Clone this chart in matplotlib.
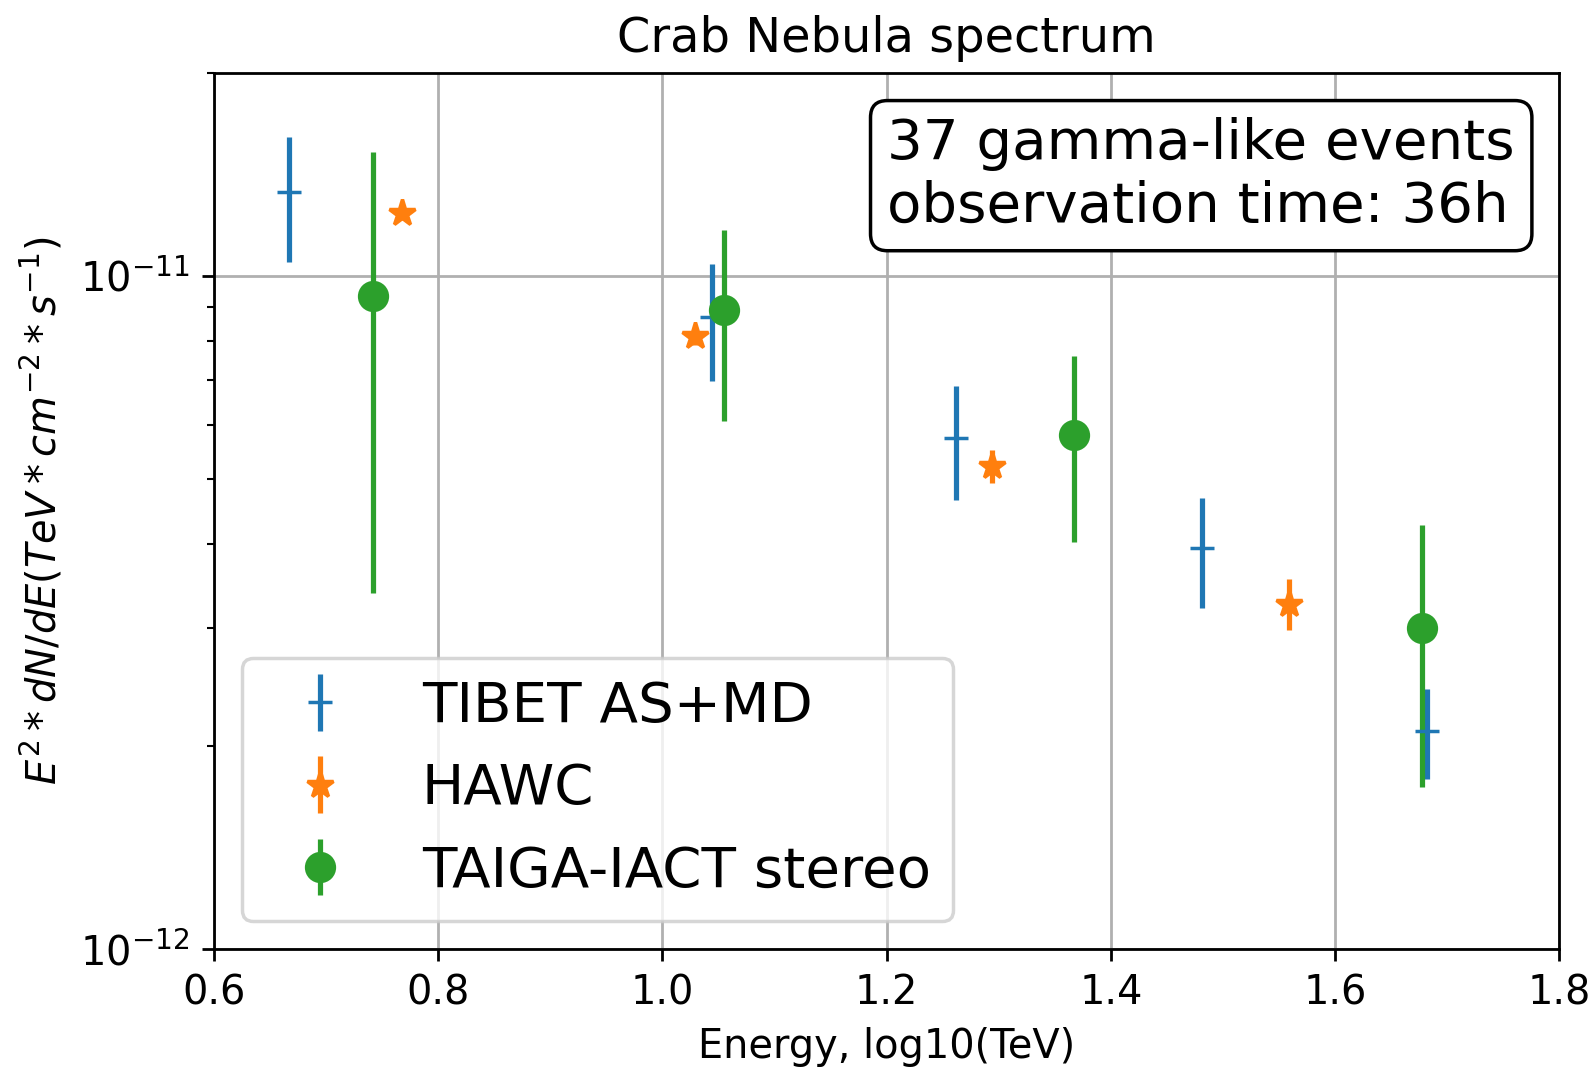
import numpy as np
import matplotlib
matplotlib.use("Agg")
import matplotlib.pyplot as plt

# values (flux in units of 1e-11)
tibet_x = [0.667, 1.044, 1.262, 1.481, 1.682]
tibet_y = [1.33, 0.87, 0.575, 0.394, 0.211]
tibet_err = [0.28, 0.172, 0.11, 0.073, 0.032]

hawc_x = [0.768, 1.029, 1.294, 1.559]
hawc_y = [1.24, 0.815, 0.522, 0.326]
hawc_err = [0.03, 0.025, 0.029, 0.028]

taiga_x = [0.742, 1.055, 1.367, 1.6775]
taiga_y = [0.933, 0.889, 0.581, 0.300]
taiga_err = [0.595, 0.28, 0.178, 0.126]

scale = 1e-11

plt.rcParams["font.size"] = 11.5


def scaled(vals):
    return np.asarray(vals, dtype=float) * scale


fig = plt.figure(figsize=(6.38, 4.288), dpi=250)
ax = fig.add_axes([0.1339, 0.1147, 0.9777 - 0.1339, 0.9317 - 0.1147])

ax.errorbar(tibet_x, scaled(tibet_y), yerr=scaled(tibet_err), fmt="+",
            markersize=7, color="C0", label="TIBET AS+MD")
ax.errorbar(hawc_x, scaled(hawc_y), yerr=scaled(hawc_err), fmt="*",
            markersize=8, color="C1", label="HAWC")
ax.errorbar(taiga_x, scaled(taiga_y), yerr=scaled(taiga_err), fmt="o",
            markersize=8, color="C2", label="TAIGA-IACT stereo")

ax.set_yscale("log")
ax.set_xlim(0.6, 1.8)
ax.set_ylim(1e-12, 2e-11)
ax.grid(True)

ax.set_title("Crab Nebula spectrum", fontsize=13.8)
ax.set_xlabel("Energy, log10(TeV)")
ax.set_ylabel(r"$E^2*dN/dE(TeV*cm^{-2}*s^{-1})$")

ax.legend(loc="lower left", fontsize=16.2)

ax.text(0.967, 0.9495, "37 gamma-like events\nobservation time: 36h",
        transform=ax.transAxes, ha="right", va="top", fontsize=16.2,
        multialignment="left",
        bbox=dict(boxstyle="round", facecolor="white", edgecolor="black"))

fig.savefig("out.png", dpi=250)
